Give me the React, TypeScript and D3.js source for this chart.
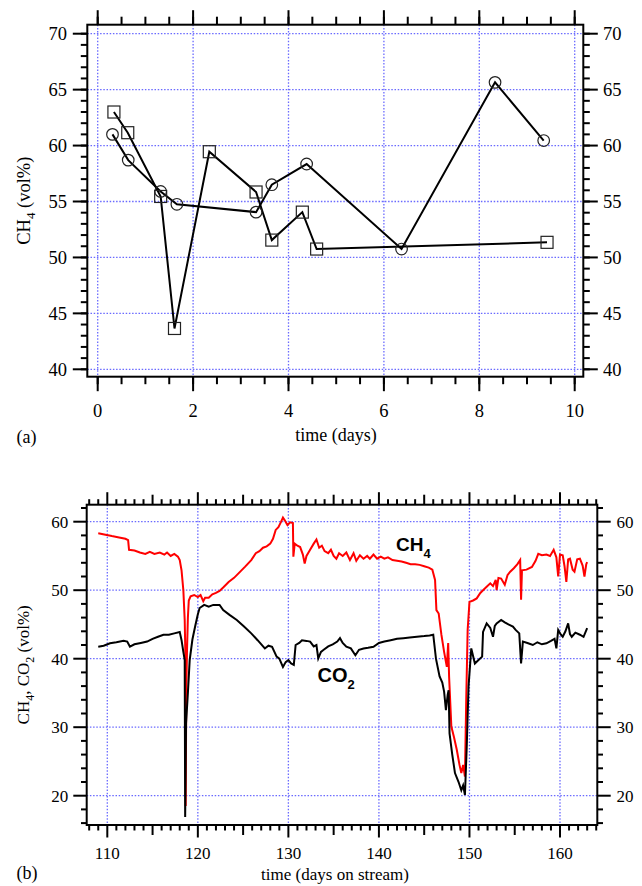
import React from "react";
import * as d3 from "d3";

// ---------- Panel (a) data ----------
const circleDays = [0.31, 0.64, 1.32, 1.66, 3.32, 3.65, 4.38, 6.37, 8.33, 9.35];
const circleCH4 = [61.0, 58.7, 55.9, 54.75, 54.05, 56.5, 58.35, 50.75, 65.65, 60.45];
const squareDays = [0.34, 0.63, 1.32, 1.61, 2.34, 3.32, 3.65, 4.29, 4.59, 9.42];
const squareCH4 = [63.0, 61.15, 55.45, 43.65, 59.45, 55.85, 51.55, 54.05, 50.75, 51.35];
const aXTicks = [0, 2, 4, 6, 8, 10];
const aYTicks = [40, 45, 50, 55, 60, 65, 70];

// ---------- Panel (b) data ----------
const ch4Days = [
  109.0, 109.8, 110.5, 111.3, 112.0, 112.3, 112.4, 113.0, 113.6, 114.2, 114.7, 115.2, 115.8, 116.3, 116.6, 117.0,
  117.4, 117.8, 118.0, 118.2, 118.4, 118.55, 118.62, 118.66, 118.72, 118.8, 118.9, 119.0, 119.2, 119.6, 120.0,
  120.3, 120.6, 120.8, 121.2, 121.6, 122.0, 122.4, 122.8, 123.4, 124.0, 124.6, 125.2, 125.9, 126.4, 126.8, 127.2,
  127.6, 128.0, 128.3, 128.6, 128.9, 129.2, 129.4, 129.6, 129.9, 130.2, 130.5, 130.55, 130.7, 131.0, 131.3, 131.6,
  131.8, 132.0, 132.4, 132.8, 133.1, 133.4, 133.7, 134.0, 134.4, 134.7, 135.0, 135.3, 135.6, 136.0, 136.4, 136.8,
  137.2, 137.5, 137.9, 138.3, 138.7, 139.0, 139.4, 139.8, 140.2, 140.6, 141.0, 141.5, 142.0, 142.5, 143.0, 143.5,
  144.0, 144.5, 145.0, 145.5, 145.9, 146.2, 146.35, 146.6, 146.9, 147.2, 147.5, 147.65, 147.75, 148.0, 148.3,
  148.6, 148.9, 149.1, 149.3, 149.5, 149.65, 149.8, 150.0, 150.4, 150.8, 151.2, 151.5, 151.9, 152.3, 152.6,
  152.9, 153.0, 153.2, 153.5, 153.9, 154.2, 154.5, 154.9, 155.3, 155.6, 155.7, 155.8, 156.3, 156.9, 157.3, 157.6,
  158.0, 158.5, 158.9, 159.3, 159.6, 159.8, 160.0, 160.3, 160.5, 160.7, 160.9, 161.1, 161.4, 161.6, 161.9, 162.2,
  162.5, 162.7, 162.9, 163.0,
];
const ch4Values = [
  58.3, 58.1, 57.9, 57.7, 57.5, 57.3, 55.9, 55.8, 55.5, 55.3, 55.6, 55.3, 55.5, 55.2, 55.5, 55.0,
  55.3, 54.9, 54.4, 52.9, 50.0, 45.6, 40.8, 18.5, 35.0, 41.0, 46.0, 48.5, 49.1, 49.3, 49.0,
  49.3, 48.4, 48.9, 48.9, 49.4, 49.6, 49.9, 50.4, 51.2, 51.8, 52.6, 53.4, 54.4, 55.4, 55.7, 56.2,
  56.4, 56.8, 57.5, 58.8, 59.2, 60.0, 60.6, 60.2, 59.5, 59.9, 59.8, 54.9, 56.8, 56.5, 56.3, 55.2,
  53.9, 55.0, 55.9, 56.8, 57.4, 56.2, 56.5, 55.7, 55.4, 55.9, 55.0, 54.6, 55.4, 55.0, 55.5, 54.4,
  55.4, 54.3, 55.1, 54.6, 55.0, 54.6, 55.2, 54.6, 54.9, 54.6, 54.8, 54.4, 54.3, 54.2, 54.0, 53.8,
  53.8, 53.7, 53.5, 53.3, 53.0, 51.5, 47.1, 46.6, 43.5, 41.0, 38.8, 42.3, 37.4, 30.1, 28.5,
  26.7, 24.5, 23.3, 24.5, 22.8, 34.5, 44.2, 48.3, 48.5, 48.8, 49.6, 50.0, 50.5, 51.0, 50.6,
  51.5, 50.0, 51.8, 51.7, 50.8, 52.2, 52.7, 53.2, 53.8, 54.4, 48.6, 52.9, 53.0, 53.4, 54.3, 55.3,
  55.1, 55.2, 55.0, 55.9, 54.8, 52.0, 55.2, 55.1, 53.5, 51.2, 54.5, 54.6, 53.0, 52.7, 54.5, 54.6,
  53.6, 52.0, 53.8, 54.1,
];
const co2Days = [
  109.0, 109.6, 110.3, 111.0, 111.8, 112.2, 112.5, 113.0, 113.7, 114.4, 115.0, 115.6, 116.2, 116.8, 117.4, 118.0,
  118.2, 118.4, 118.55, 118.6, 118.7, 118.9, 119.1, 119.4, 119.7, 120.0, 120.2, 120.7, 121.2, 121.7, 122.4, 122.8,
  123.5, 124.3, 125.1, 125.9, 126.6, 127.4, 127.8, 128.2, 128.7, 129.0, 129.4, 129.7, 130.0, 130.3, 130.6, 130.8,
  131.2, 131.5, 132.0, 132.4, 132.8, 133.1, 133.3, 133.6, 133.9, 134.4, 134.9, 135.4, 135.7, 136.0, 136.4, 136.9,
  137.4, 137.8, 138.3, 138.8, 139.4, 140.0, 140.6, 141.3, 142.0, 142.7, 143.4, 144.2, 145.0, 145.6, 146.0, 146.3,
  146.7, 147.0, 147.2, 147.4, 147.6, 147.7, 147.8, 148.1, 148.4, 148.8, 149.1, 149.3, 149.5, 149.7, 149.9, 150.2,
  150.6, 151.0, 151.4, 151.5, 151.9, 152.3, 152.6, 152.8, 153.0, 153.5, 153.9, 154.3, 154.8, 155.1, 155.5, 155.7,
  155.9, 156.4, 157.0, 157.5, 158.0, 158.5, 159.0, 159.4, 159.6, 159.8, 160.1, 160.3, 160.6, 160.9, 161.1, 161.3,
  161.7, 162.2, 162.6, 163.0,
];
const co2Values = [
  41.75, 41.9, 42.25, 42.4, 42.6, 42.5, 41.75, 42.1, 42.3, 42.5, 42.9, 43.2, 43.5, 43.5, 43.7, 43.9,
  42.7, 41.0, 39.8, 16.9, 30.6, 35.0, 39.8, 42.8, 44.7, 46.5, 47.4, 47.85, 47.6, 47.85, 47.85, 47.1,
  46.4, 45.65, 44.7, 43.7, 42.7, 41.5, 41.9, 41.75, 40.3, 40.0, 38.8, 39.5, 39.8, 39.3, 39.1, 42.0,
  42.3, 42.7, 42.6, 42.5, 41.8, 42.0, 40.05, 41.0, 41.3, 41.8, 42.1, 42.5, 43.0, 42.3, 41.75, 41.5,
  40.5, 41.3, 41.5, 41.6, 41.75, 42.3, 42.5, 42.7, 42.9, 43.0, 43.1, 43.2, 43.3, 43.4, 43.5, 40.0,
  37.4, 36.5, 35.2, 32.5, 34.8, 35.4, 29.1, 26.0, 23.3, 22.0, 20.8, 21.5, 20.1, 27.2, 36.0, 41.5,
  39.3, 39.8, 40.3, 43.9, 45.15, 44.5, 43.2, 44.8, 45.15, 45.65, 45.3, 45.0, 44.7, 44.2, 43.7, 39.3,
  42.5, 42.3, 42.0, 42.4, 42.1, 42.25, 42.6, 42.9, 41.5, 44.2, 43.5, 43.2, 44.0, 45.15, 43.6, 43.2,
  43.8, 43.5, 43.2, 44.45,
];
const bXTicks = [110, 120, 130, 140, 150, 160];
const bYTicks = [20, 30, 40, 50, 60];

const SERIF = "'Liberation Serif', 'Times New Roman', serif";
const SANS = "'Liberation Sans', Arial, sans-serif";
const GRID = "#6a6aff";

function range(a: number, b: number, step: number) {
  const out: number[] = [];
  for (let v = a; v <= b + 1e-9; v += step) out.push(+v.toFixed(4));
  return out;
}

export default function App() {
  // Panel (a) scales
  const xA = d3.scaleLinear().domain([0, 10]).range([97.7, 574.7]);
  const yA = d3.scaleLinear().domain([40, 70]).range([369.3, 33.7]);
  const fA = { l: 87.3, r: 583.3, t: 24.7, b: 376.7 };

  // Panel (b) scales
  const xB = d3.scaleLinear().domain([110, 160]).range([107.3, 560]);
  const yB = d3.scaleLinear().domain([20, 60]).range([795.7, 521.7]);
  const fB = { l: 86.7, r: 597.3, t: 504.7, b: 825 };

  const circlePts = circleDays.map((d, i) => [d, circleCH4[i]] as [number, number]);
  const squarePts = squareDays.map((d, i) => [d, squareCH4[i]] as [number, number]);
  const lineA = d3
    .line<[number, number]>()
    .x((p) => xA(p[0]))
    .y((p) => yA(p[1]));

  const ch4Pts = ch4Days.map((d, i) => [d, ch4Values[i]] as [number, number]);
  const co2Pts = co2Days.map((d, i) => [d, co2Values[i]] as [number, number]);
  const lineB = d3
    .line<[number, number]>()
    .x((p) => xB(p[0]))
    .y((p) => yB(p[1]));

  // ticks (a)
  const aXMinor = range(0, 10, 0.5).filter((v) => xA(v) > fA.l && xA(v) < fA.r);
  const aYMinor = range(40, 70, 1);
  // ticks (b)
  const bXMinor = range(108, 164, 1).filter((v) => xB(v) > fB.l + 1 && xB(v) < fB.r - 1);
  const bYMinor = range(16, 62, 2).filter((v) => yB(v) < fB.b - 1 && yB(v) > fB.t + 1);

  return (
    <svg
      width={642}
      height={886}
      style={{ position: "absolute", left: 0, top: 0, background: "#fff" }}
      xmlns="http://www.w3.org/2000/svg"
    >
      <rect x={0} y={0} width={642} height={886} fill="#fff" />

      {/* ================= Panel (a) ================= */}
      <g>
        {aXTicks.map((t) => (
          <line key={"agx" + t} x1={xA(t)} x2={xA(t)} y1={fA.t} y2={fA.b} stroke={GRID} strokeWidth={1.3} strokeDasharray="1.5,1.7" />
        ))}
        {aYTicks.map((t) => (
          <line key={"agy" + t} x1={fA.l} x2={fA.r} y1={yA(t)} y2={yA(t)} stroke={GRID} strokeWidth={1.3} strokeDasharray="1.5,1.7" />
        ))}

        {aXMinor.map((v) => (
          <g key={"axm" + v}>
            <line x1={xA(v)} x2={xA(v)} y1={fA.t} y2={fA.t - 8} stroke="#000" strokeWidth={2} />
            <line x1={xA(v)} x2={xA(v)} y1={fA.b} y2={fA.b + 7.5} stroke="#000" strokeWidth={2} />
          </g>
        ))}
        {aYMinor.map((v) => (
          <g key={"aym" + v}>
            <line x1={fA.l} x2={fA.l - 6.5} y1={yA(v)} y2={yA(v)} stroke="#000" strokeWidth={2} />
            <line x1={fA.r} x2={fA.r + 6.5} y1={yA(v)} y2={yA(v)} stroke="#000" strokeWidth={2} />
          </g>
        ))}
        {aXTicks.map((t) => (
          <g key={"axt" + t}>
            <line x1={xA(t)} x2={xA(t)} y1={fA.t} y2={fA.t - 14.5} stroke="#000" strokeWidth={2} />
            <line x1={xA(t)} x2={xA(t)} y1={fA.b} y2={fA.b + 14.5} stroke="#000" strokeWidth={2} />
            <text x={xA(t)} y={416.5} textAnchor="middle" fontFamily={SERIF} fontSize={18.5}>
              {t}
            </text>
          </g>
        ))}
        {aYTicks.map((t) => (
          <g key={"ayt" + t}>
            <line x1={fA.l} x2={fA.l - 14.5} y1={yA(t)} y2={yA(t)} stroke="#000" strokeWidth={2} />
            <line x1={fA.r} x2={fA.r + 14.5} y1={yA(t)} y2={yA(t)} stroke="#000" strokeWidth={2} />
            <text x={67} y={yA(t) + 6.3} textAnchor="end" fontFamily={SERIF} fontSize={18.5}>
              {t}
            </text>
            <text x={603} y={yA(t) + 6.3} textAnchor="start" fontFamily={SERIF} fontSize={18.5}>
              {t}
            </text>
          </g>
        ))}

        <rect x={fA.l} y={fA.t} width={fA.r - fA.l} height={fA.b - fA.t} fill="none" stroke="#000" strokeWidth={2} />

        <path d={lineA(circlePts) || ""} fill="none" stroke="#000" strokeWidth={2} />
        <path d={lineA(squarePts) || ""} fill="none" stroke="#000" strokeWidth={2} />
        {circlePts.map((p, i) => (
          <circle key={"c" + i} cx={xA(p[0])} cy={yA(p[1])} r={5.8} fill="none" stroke="#222" strokeWidth={1.2} />
        ))}
        {squarePts.map((p, i) => (
          <rect key={"s" + i} x={xA(p[0]) - 6} y={yA(p[1]) - 6} width={12} height={12} fill="none" stroke="#222" strokeWidth={1.2} />
        ))}

        <text
          transform={`translate(29.5, ${(fA.t + fA.b) / 2}) rotate(-90)`}
          textAnchor="middle"
          fontFamily={SERIF}
          fontSize={18.5}
        >
          CH<tspan fontSize={13} dy={5}>4</tspan>
          <tspan dy={-5}> (vol%)</tspan>
        </text>
        <text x={336} y={441} textAnchor="middle" fontFamily={SERIF} fontSize={18}>
          time (days)
        </text>
        <text x={16.5} y={443} fontFamily={SERIF} fontSize={18}>
          (a)
        </text>
      </g>

      {/* ================= Panel (b) ================= */}
      <g>
        {bXTicks.map((t) => (
          <line key={"bgx" + t} x1={xB(t)} x2={xB(t)} y1={fB.t} y2={fB.b} stroke={GRID} strokeWidth={1.3} strokeDasharray="1.5,1.7" />
        ))}
        {bYTicks.map((t) => (
          <line key={"bgy" + t} x1={fB.l} x2={fB.r} y1={yB(t)} y2={yB(t)} stroke={GRID} strokeWidth={1.3} strokeDasharray="1.5,1.7" />
        ))}

        {bXMinor.map((v) => {
          const len = v % 10 === 0 ? 12.5 : v % 5 === 0 ? 10 : 5.5;
          return (
            <g key={"bxm" + v}>
              <line x1={xB(v)} x2={xB(v)} y1={fB.t} y2={fB.t - len} stroke="#000" strokeWidth={2} />
              <line x1={xB(v)} x2={xB(v)} y1={fB.b} y2={fB.b + len} stroke="#000" strokeWidth={2} />
            </g>
          );
        })}
        {bYMinor.map((v) => {
          const len = v % 10 === 0 ? 13.4 : 5.7;
          return (
            <g key={"bym" + v}>
              <line x1={fB.l} x2={fB.l - len} y1={yB(v)} y2={yB(v)} stroke="#000" strokeWidth={2} />
              <line x1={fB.r} x2={fB.r + len} y1={yB(v)} y2={yB(v)} stroke="#000" strokeWidth={2} />
            </g>
          );
        })}
        {bXTicks.map((t) => (
          <text key={"bxl" + t} x={xB(t)} y={859} textAnchor="middle" fontFamily={SERIF} fontSize={17}>
            {t}
          </text>
        ))}
        {bYTicks.map((t) => (
          <g key={"byl" + t}>
            <text x={68.3} y={yB(t) + 5.8} textAnchor="end" fontFamily={SERIF} fontSize={17}>
              {t}
            </text>
            <text x={616.5} y={yB(t) + 5.8} textAnchor="start" fontFamily={SERIF} fontSize={17}>
              {t}
            </text>
          </g>
        ))}

        <rect x={fB.l} y={fB.t} width={fB.r - fB.l} height={fB.b - fB.t} fill="none" stroke="#000" strokeWidth={2} />

        <path d={lineB(ch4Pts) || ""} fill="none" stroke="#ff0000" strokeWidth={2} strokeLinejoin="miter" />
        <path d={lineB(co2Pts) || ""} fill="none" stroke="#000" strokeWidth={2} strokeLinejoin="miter" />

        <text x={396} y={551} fontFamily={SANS} fontWeight="bold" fontSize={19}>
          CH<tspan fontSize={13} dy={7}>4</tspan>
        </text>
        <text x={317.5} y={681.5} fontFamily={SANS} fontWeight="bold" fontSize={20}>
          CO<tspan fontSize={13} dy={7}>2</tspan>
        </text>

        <text
          transform={`translate(29, ${(fB.t + fB.b) / 2}) rotate(-90)`}
          textAnchor="middle"
          fontFamily={SERIF}
          fontSize={17}
        >
          CH<tspan fontSize={12} dy={5}>4</tspan>
          <tspan dy={-5}>, CO</tspan>
          <tspan fontSize={12} dy={5}>2</tspan>
          <tspan dy={-5}> (vol%)</tspan>
        </text>
        <text x={335} y={880} textAnchor="middle" fontFamily={SERIF} fontSize={17}>
          time (days on stream)
        </text>
        <text x={16.5} y={879} fontFamily={SERIF} fontSize={18}>
          (b)
        </text>
      </g>
    </svg>
  );
}
